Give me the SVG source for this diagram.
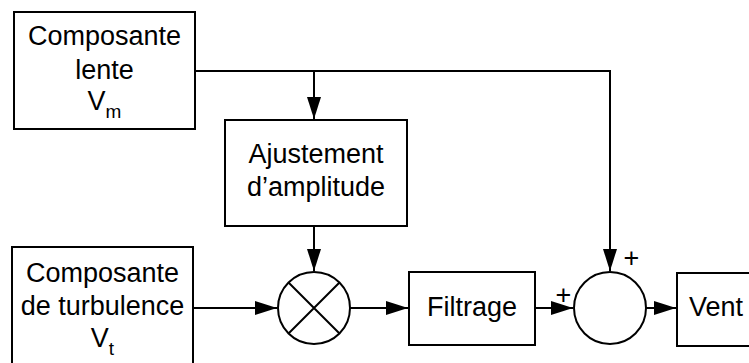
<svg xmlns="http://www.w3.org/2000/svg" width="749" height="363" viewBox="0 0 749 363">
<style>
.box{fill:#fff;stroke:#000;stroke-width:2}
.ln{fill:none;stroke:#000;stroke-width:2}
.t{font-family:"Liberation Sans",Arial,sans-serif;font-size:27px;fill:#000;text-anchor:middle}
.s{font-size:19px}
.p{font-family:"Liberation Sans",Arial,sans-serif;font-size:27px;fill:#000;text-anchor:middle}
</style>
<defs>
<marker id="ah" markerUnits="userSpaceOnUse" markerWidth="22" markerHeight="14" refX="22" refY="7" orient="auto">
<path d="M0,0 L22,7 L0,14 z" fill="#000"/>
</marker>
</defs>
<rect width="749" height="363" fill="#fff"/>
<g id="connectors">
<path class="ln" d="M195,71 H610 V271" marker-end="url(#ah)"/>
<path class="ln" d="M314,71 V119" marker-end="url(#ah)"/>
<path class="ln" d="M314,226 V271" marker-end="url(#ah)"/>
<path class="ln" d="M193,308 H277" marker-end="url(#ah)"/>
<path class="ln" d="M350,308 H408" marker-end="url(#ah)"/>
<path class="ln" d="M535,308 H573" marker-end="url(#ah)"/>
<path class="ln" d="M646,308 H676" marker-end="url(#ah)"/>
</g>
<g id="lente">
<rect class="box" x="14" y="12" width="181" height="117"/>
<text class="t" x="104.5" y="45">Composante</text>
<text class="t" x="104.5" y="79">lente</text>
<text class="t" x="104.5" y="110">V<tspan class="s" dy="8">m</tspan></text>
</g>
<g id="ajustement">
<rect class="box" x="225" y="120" width="182" height="106"/>
<text class="t" x="316" y="163">Ajustement</text>
<text class="t" x="316" y="196">d’amplitude</text>
</g>
<g id="turbulence">
<rect class="box" x="12" y="247" width="181" height="125"/>
<text class="t" x="102.5" y="282">Composante</text>
<text class="t" x="102.5" y="315">de turbulence</text>
<text class="t" x="102.5" y="347">V<tspan class="s" dy="8">t</tspan></text>
</g>
<g id="multiplier">
<circle class="box" cx="314" cy="308" r="36"/>
<path class="ln" d="M288.5,282.5 L339.5,333.5 M339.5,282.5 L288.5,333.5"/>
</g>
<g id="filtrage">
<rect class="box" x="409" y="272" width="126" height="73"/>
<text class="t" x="472" y="316">Filtrage</text>
</g>
<g id="sommateur">
<circle class="box" cx="610" cy="308" r="36"/>
<text class="p" x="631.5" y="266.5">+</text>
<text class="p" x="563.5" y="303.5">+</text>
</g>
<g id="vent">
<rect class="box" x="677" y="273" width="90" height="73"/>
<text class="t" x="716" y="316">Vent</text>
</g>
</svg>
